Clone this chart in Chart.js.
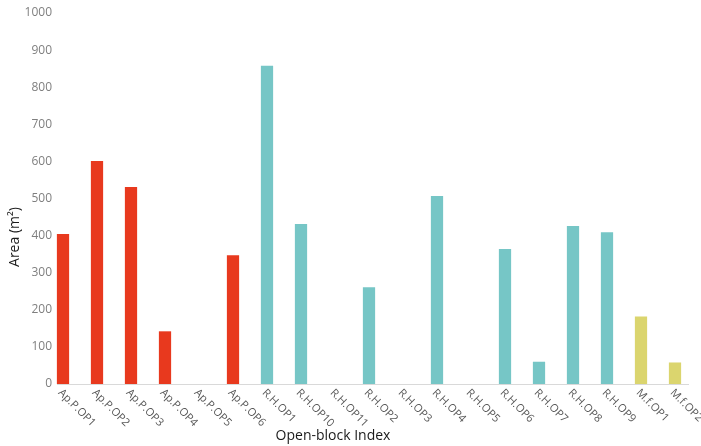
<!DOCTYPE html>
<html>
<head>
<meta charset="utf-8">
<script src="https://cdn.jsdelivr.net/npm/chart.js@4.4.1/dist/chart.umd.min.js"></script>
<style>
  html, body { margin: 0; padding: 0; background: #fff; }
  #wrap { width: 701px; height: 446px; }
</style>
</head>
<body>
<div id="wrap"><canvas id="areaChart"></canvas></div>
<script>
const blocks = ['Ap.P.OP1', 'Ap.P.OP2', 'Ap.P.OP3', 'Ap.P.OP4', 'Ap.P.OP5', 'Ap.P.OP6',
    'R.H.OP1', 'R.H.OP10', 'R.H.OP11', 'R.H.OP2', 'R.H.OP3', 'R.H.OP4', 'R.H.OP5',
    'R.H.OP6', 'R.H.OP7', 'R.H.OP8', 'R.H.OP9', 'M.f.OP1', 'M.f.OP2'];
const areas = [404, 601, 531, 142, 0, 347, 858, 431, 0, 261, 0, 507, 0, 364, 60, 426, 409, 182, 58];
const yTicks = [0, 100, 200, 300, 400, 500, 600, 700, 800, 900, 1000];

const groupColors = { 'Ap.P': '#e8391e', 'R.H': '#76c6c6', 'M.f': '#dbd56e' };
const barColors = blocks.map(b => groupColors[b.split('.').slice(0, 2).join('.')]);

const FONT = '"Open Sans", "Noto Sans", sans-serif';

// baseline, slanted category labels and both axis titles
const labelPlugin = {
    id: 'labelPlugin',
    beforeDatasetsDraw(chart) {
        const { ctx, chartArea } = chart;
        ctx.save();
        ctx.strokeStyle = '#d9d9d9';
        ctx.lineWidth = 1;
        ctx.beginPath();
        ctx.moveTo(chartArea.left - 6, Math.round(chartArea.bottom) + 0.5);
        ctx.lineTo(chartArea.right + 14, Math.round(chartArea.bottom) + 0.5);
        ctx.stroke();
        ctx.restore();
    },
    afterDraw(chart) {
        const { ctx, scales: { x }, chartArea } = chart;
        ctx.save();
        ctx.fillStyle = '#595959';
        ctx.font = '11px ' + FONT;
        ctx.textAlign = 'left';
        ctx.textBaseline = 'middle';
        blocks.forEach((b, i) => {
            const px = x.getPixelForTick(i);
            ctx.save();
            ctx.translate(px - 3, chartArea.bottom + 7);
            ctx.rotate(Math.PI / 4);
            ctx.fillText(b, 0, 0);
            ctx.restore();
        });

        ctx.fillStyle = '#1a1a1a';
        ctx.font = '14px ' + FONT;
        ctx.textAlign = 'center';
        ctx.textBaseline = 'middle';
        ctx.fillText('Open-block Index', 333, 436);

        ctx.save();
        ctx.translate(15, 237);
        ctx.rotate(-Math.PI / 2);
        ctx.fillText('Area (m²)', 0, 0);
        ctx.restore();
        ctx.restore();
    }
};

const ctx = document.getElementById('areaChart').getContext('2d');
const areaChart = new Chart(ctx, {
    type: 'bar',
    data: {
        labels: blocks,
        datasets: [{ label: 'Area', data: areas, backgroundColor: barColors, borderWidth: 0,
            barPercentage: 0.36, categoryPercentage: 1, clip: false }]
    },
    options: {
        responsive: true,
        maintainAspectRatio: false,
        animation: false,
        layout: { padding: { top: 13, right: 26, bottom: 0, left: 0 } },
        plugins: { legend: { display: false }, tooltip: { enabled: false } },
        scales: {
            x: {
                offset: false,
                grid: { display: false },
                border: { display: false },
                ticks: { display: false },
                afterFit: s => { s.height = 62; }
            },
            y: {
                min: 0, max: 1000,
                afterBuildTicks: s => { s.ticks = yTicks.map(v => ({ value: v })); },
                grid: { display: false, drawTicks: false },
                border: { display: false },
                ticks: { color: '#7f7f7f', font: { family: FONT, size: 12 }, padding: 11,
                    callback: v => String(v) },
                afterFit: s => { s.width = 63; s.paddingTop = 0; s.paddingBottom = 0; }
            }
        }
    },
    plugins: [labelPlugin]
});
</script>
</body>
</html>
